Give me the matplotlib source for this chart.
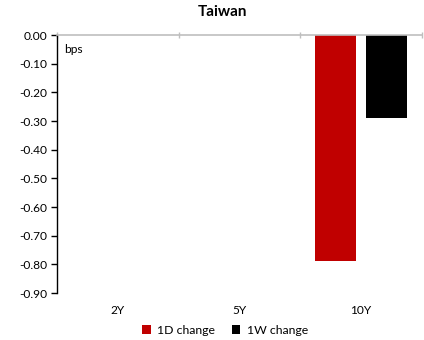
import matplotlib
matplotlib.use("Agg")
import matplotlib.pyplot as plt
import numpy as np

plt.rcParams['font.family'] = ['Lato', 'DejaVu Sans']

categories = ["2Y", "5Y", "10Y"]
change_1d = [np.nan, np.nan, -0.79]
change_1w = [np.nan, np.nan, -0.29]
series_names = ["1D change", "1W change"]
colors = ["#C00000", "#000000"]
yticks = [0.0, -0.1, -0.2, -0.3, -0.4, -0.5, -0.6, -0.7, -0.8, -0.9]

fig = plt.figure(figsize=(4.24, 3.40), dpi=100)
ax = fig.add_axes([57/424, 1-293/340, 365/424, 258/340])

x = np.arange(len(categories))
w = 0.337
off = 0.21
ax.bar(x - off, change_1d, w, color=colors[0], label=series_names[0])
ax.bar(x + off, change_1w, w, color=colors[1], label=series_names[1])

ax.set_xlim(-0.5, 2.5)
ax.set_ylim(-0.9, 0.0)
ax.set_yticks(yticks)
ax.set_yticklabels([f"{v:.2f}" for v in yticks], fontsize=8.6)

ax.set_xticks(x)
ax.set_xticklabels(categories, fontsize=8.6)
ax.tick_params(axis='x', which='major', length=0, pad=9)
ax.set_xticks([-0.5, 0.5, 1.5, 2.5], minor=True)
ax.tick_params(axis='x', which='minor', bottom=False, top=True,
               direction='inout', length=4, color='#BFBFBF', width=1)
ax.tick_params(axis='y', direction='out', length=4, width=1, color='black', pad=3)

for s in ['right', 'bottom']:
    ax.spines[s].set_visible(False)
ax.spines['top'].set_color('#BFBFBF')
ax.spines['top'].set_linewidth(1.2)
ax.spines['left'].set_color('black')
ax.spines['left'].set_linewidth(1)

ax.text(0.02, 0.945, "bps", transform=ax.transAxes, fontsize=8.6, va='center', ha='left')

fig.text(222/424, 1-12/340, "Taiwan", ha='center', va='center', fontsize=11, fontweight='bold')

fig.legend(loc='center', bbox_to_anchor=(225/424, 1-330/340), ncol=2, frameon=False,
           fontsize=8.8, handlelength=0.7, handleheight=0.7, handletextpad=0.5,
           columnspacing=1.4, borderpad=0)

fig.savefig("out.png", dpi=100)
